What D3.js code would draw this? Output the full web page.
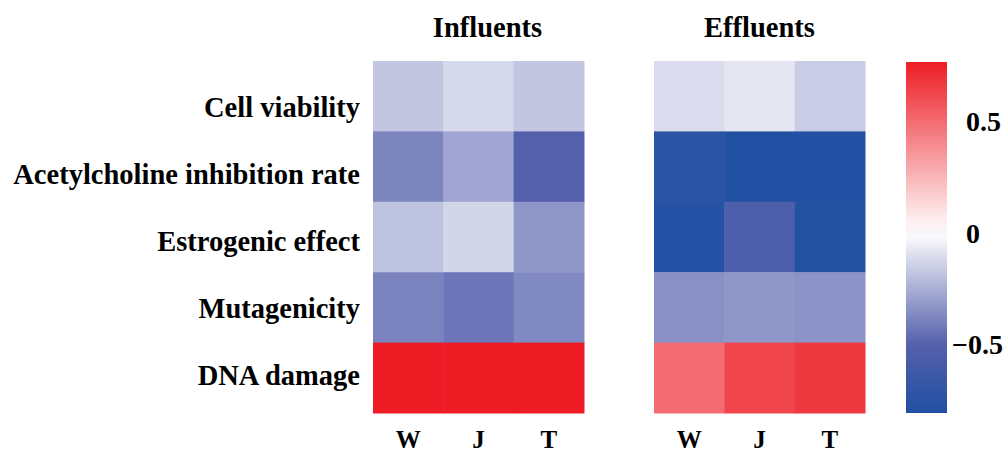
<!DOCTYPE html>
<html>
<head>
<meta charset="utf-8">
<script src="https://cdn.jsdelivr.net/npm/d3@7"></script>
<style>
  body { margin: 0; background: #fff; }
  text { font-family: 'Liberation Serif', 'Times New Roman', serif; font-weight: bold; fill: #000; }
</style>
</head>
<body>
<div id="chart"></div>
<script>
const rows = ['Cell viability', 'Acetylcholine inhibition rate', 'Estrogenic effect', 'Mutagenicity', 'DNA damage']
const sites = ['W', 'J', 'T']
const groups = ['Influents', 'Effluents']
// rows x sites
const influents = [
  [-0.18, -0.12, -0.18],
  [-0.38, -0.28, -0.50],
  [-0.19, -0.13, -0.33],
  [-0.39, -0.43, -0.37],
  [0.77, 0.77, 0.77]
]
const effluents = [
  [-0.11, -0.08, -0.16],
  [-0.75, -0.80, -0.80],
  [-0.78, -0.55, -0.79],
  [-0.35, -0.33, -0.34],
  [0.50, 0.63, 0.67]
]
const colorTicks = [-0.5, 0, 0.5]

const width = 1006
const height = 452
const svg = d3.select('#chart').append('svg')
  .attr('width', width)
  .attr('height', height)

const color = d3.scaleLinear()
  .domain([-0.8, -0.5, 0, 0.77])
  .range(['#2251a3', '#5560ac', '#ffffff', '#ed1c24'])
  .clamp(true)

const y = d3.scaleBand().domain(rows).range([61, 413])
// row labels sit on slightly tighter spacing than the cells
const yLabel = d3.scalePoint().domain(rows).range([117, 385])
const panels = [
  { name: groups[0], data: influents, x0: 373, x1: 584 },
  { name: groups[1], data: effluents, x0: 654, x1: 865 }
]

panels.forEach((p, k) => {
  const x = d3.scaleBand().domain(sites).range([p.x0, p.x1])
  const g = svg.append('g')
  const cells = []
  p.data.forEach((r, i) => r.forEach((v, j) => cells.push({ row: rows[i], site: sites[j], v })))
  g.selectAll('rect')
    .data(cells)
    .enter()
    .append('rect')
    .attr('x', d => x(d.site))
    .attr('y', d => y(d.row))
    .attr('width', x.bandwidth() + 0.5)
    .attr('height', y.bandwidth() + 0.5)
    .attr('fill', d => color(d.v))
  g.append('text')
    .attr('x', (p.x0 + p.x1) / 2 + (k === 0 ? 9 : 0))
    .attr('y', 37)
    .attr('text-anchor', 'middle')
    .attr('font-size', '28.5px')
    .text(p.name)
  g.selectAll('.col')
    .data(sites)
    .enter()
    .append('text')
    .attr('x', d => x(d) + x.bandwidth() / 2)
    .attr('y', 448)
    .attr('text-anchor', 'middle')
    .attr('font-size', '25px')
    .text(d => d)
})

svg.append('g')
  .selectAll('text')
  .data(rows)
  .enter()
  .append('text')
  .attr('x', 360)
  .attr('y', d => yLabel(d))
  .attr('text-anchor', 'end')
  .attr('font-size', '28.5px')
  .text(d => d)

// colour bar
const cb = d3.scaleLinear().domain([-0.81, 0.767]).range([413, 62])
const defs = svg.append('defs')
const grad = defs.append('linearGradient')
  .attr('id', 'cbgrad')
  .attr('x1', 0).attr('y1', 1).attr('x2', 0).attr('y2', 0)
d3.range(0, 1.0001, 0.05).forEach(t => {
  const v = cb.domain()[0] + t * (cb.domain()[1] - cb.domain()[0])
  grad.append('stop').attr('offset', t).attr('stop-color', color(v))
})
svg.append('rect')
  .attr('x', 906)
  .attr('y', 62)
  .attr('width', 41)
  .attr('height', 351)
  .attr('fill', 'url(#cbgrad)')
svg.append('g')
  .selectAll('text')
  .data(colorTicks)
  .enter()
  .append('text')
  .attr('x', d => d < 0 ? 952 : 966)
  .attr('y', d => cb(d) + 10)
  .attr('font-size', '28px')
  .text(d => d === 0 ? '0' : (d < 0 ? '\u22120.5' : '0.5'))
</script>
</body>
</html>
